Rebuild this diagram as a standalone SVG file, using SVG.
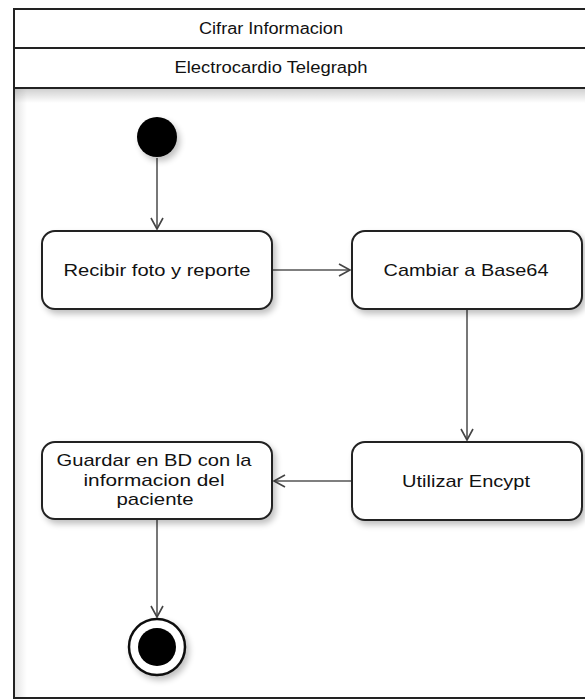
<svg xmlns="http://www.w3.org/2000/svg" width="585" height="700" viewBox="0 0 585 700">
  <style>
    .frame { fill: #ffffff; stroke: #222222; stroke-width: 2; }
    .head { font-family: "Liberation Sans", Arial, sans-serif; font-size: 16px; fill: #111111; text-anchor: middle; }
    .act { fill: #ffffff; stroke: #222222; stroke-width: 2; filter: url(#shadow); }
    .lbl { font-family: "Liberation Sans", Arial, sans-serif; font-size: 17px; fill: #111111; text-anchor: middle; }
    .edge { fill: none; stroke: #555555; stroke-width: 1.6; marker-end: url(#open); }
  </style>
  <defs>
    <filter id="shadow" x="-20%" y="-20%" width="150%" height="160%">
      <feGaussianBlur in="SourceAlpha" stdDeviation="3"/>
      <feOffset dx="3" dy="4" result="b"/>
      <feComponentTransfer><feFuncA type="linear" slope="0.25"/></feComponentTransfer>
      <feMerge><feMergeNode/><feMergeNode in="SourceGraphic"/></feMerge>
    </filter>
    <linearGradient id="topShade" x1="0" y1="0" x2="0" y2="1">
      <stop offset="0" stop-color="#000000" stop-opacity="0.18"/>
      <stop offset="1" stop-color="#000000" stop-opacity="0"/>
    </linearGradient>
    <linearGradient id="leftShade" x1="0" y1="0" x2="1" y2="0">
      <stop offset="0" stop-color="#000000" stop-opacity="0.1"/>
      <stop offset="1" stop-color="#000000" stop-opacity="0"/>
    </linearGradient>
    <marker id="open" markerWidth="14" markerHeight="14" refX="12" refY="7" orient="auto" markerUnits="userSpaceOnUse">
      <path d="M1,1 L12,7 L1,13" fill="none" stroke="#444444" stroke-width="1.6"/>
    </marker>
  </defs>

  <!-- swimlane frame -->
  <g id="frame">
    <rect x="14" y="9" width="580" height="689" class="frame"/>
    <rect x="15" y="89" width="578" height="14" fill="url(#topShade)"/>
    <rect x="15" y="89" width="12" height="608" fill="url(#leftShade)"/>
    <line x1="14" y1="48" x2="594" y2="48" stroke="#222222" stroke-width="2"/>
    <line x1="14" y1="88" x2="594" y2="88" stroke="#222222" stroke-width="2"/>
    <text x="271" y="34" class="head" textLength="144" lengthAdjust="spacingAndGlyphs">Cifrar Informacion</text>
    <text x="271" y="73" class="head" textLength="193" lengthAdjust="spacingAndGlyphs">Electrocardio Telegraph</text>
  </g>

  <!-- transitions -->
  <g id="connectors">
    <line x1="157" y1="158" x2="157" y2="229" class="edge"/>
    <line x1="272" y1="270" x2="350" y2="270" class="edge"/>
    <line x1="467" y1="309" x2="467" y2="440" class="edge"/>
    <line x1="352" y1="481" x2="274" y2="481" class="edge"/>
    <line x1="157" y1="519" x2="157" y2="617" class="edge"/>
  </g>

  <g id="start">
    <circle cx="157" cy="137" r="20" fill="#000000" filter="url(#shadow)"/>
  </g>

  <g id="recibir">
    <rect x="42" y="231" width="230" height="78" rx="13" class="act"/>
    <text x="157" y="276" class="lbl" textLength="187" lengthAdjust="spacingAndGlyphs">Recibir foto y reporte</text>
  </g>

  <g id="cambiar">
    <rect x="352" y="231" width="230" height="78" rx="13" class="act"/>
    <text x="466" y="276" class="lbl" textLength="165" lengthAdjust="spacingAndGlyphs">Cambiar a Base64</text>
  </g>

  <g id="utilizar">
    <rect x="352" y="442" width="230" height="78" rx="13" class="act"/>
    <text x="466" y="487" class="lbl" textLength="128" lengthAdjust="spacingAndGlyphs">Utilizar Encypt</text>
  </g>

  <g id="guardar">
    <rect x="42" y="442" width="230" height="77" rx="13" class="act"/>
    <text x="154" y="466" class="lbl" textLength="195" lengthAdjust="spacingAndGlyphs">Guardar en BD con la</text>
    <text x="154" y="486" class="lbl" textLength="141" lengthAdjust="spacingAndGlyphs">informacion del</text>
    <text x="155" y="505" class="lbl" textLength="77" lengthAdjust="spacingAndGlyphs">paciente</text>
  </g>

  <g id="end">
    <circle cx="157" cy="647" r="28" fill="#ffffff" stroke="#111111" stroke-width="2.5" filter="url(#shadow)"/>
    <circle cx="157" cy="647" r="19" fill="#000000"/>
  </g>
</svg>
